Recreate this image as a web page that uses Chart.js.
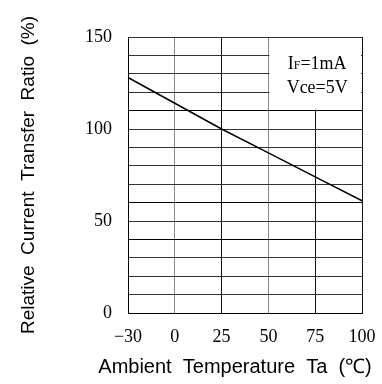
<!DOCTYPE html>
<html>
<head>
<meta charset="utf-8">
<script src="https://cdn.jsdelivr.net/npm/chart.js@4"></script>
<style>
  html, body { margin: 0; padding: 0; background: #fff; }
  #wrap { width: 382px; height: 384px; }
</style>
</head>
<body>
<div id="wrap"><canvas id="myChart" width="382" height="384"></canvas></div>
<script>
// temperature ticks (evenly spaced on the original graph paper)
const temperatures = ["\u221230", "0", "25", "50", "75", "100"];
// relative CTR (%) read at each temperature tick
const ctrValues = [128, 114, 100, 87, 74, 61];
const yLabels = [0, 50, 100, 150];
const noteLines = ["IF=1mA", "Vce=5V"];
const xTitle = "Ambient  Temperature  Ta  (\u2103)";

const serif = "'Liberation Serif', 'Times New Roman', serif";
const sans = "'Liberation Sans', Arial, sans-serif";

// white box with test conditions in the upper right corner
const notePlugin = {
  id: "note",
  beforeDatasetsDraw(chart) {
    const ctx = chart.ctx;
    const x = chart.scales.x;
    const y = chart.scales.y;
    const left = x.getPixelForValue(3) + 1;
    const right = x.getPixelForValue(5) - 1;
    const top = y.getPixelForValue(150) + 1;
    const bottom = y.getPixelForValue(110) - 1;
    ctx.save();
    ctx.fillStyle = "#fff";
    ctx.fillRect(left, top, right - left, bottom - top);
    ctx.fillStyle = "#000";
    ctx.textBaseline = "middle";
    const cx = (left + right) / 2 + 2;
    // first line: I with small-cap F
    ctx.font = "18px " + serif;
    const wI = ctx.measureText("I").width;
    ctx.font = "12px " + serif;
    const wF = ctx.measureText("F").width;
    ctx.font = "18px " + serif;
    const rest = noteLines[0].slice(2);
    const wRest = ctx.measureText(rest).width;
    const sx = cx - (wI + wF + wRest) / 2;
    const ly1 = top + 26;
    ctx.textAlign = "left";
    ctx.fillText("I", sx, ly1);
    ctx.font = "12px " + serif;
    ctx.fillText("F", sx + wI, ly1 + 2);
    ctx.font = "18px " + serif;
    ctx.fillText(rest, sx + wI + wF, ly1);
    ctx.textAlign = "center";
    ctx.fillText(noteLines[1], cx, top + 50);
    ctx.restore();
  },
  // x axis title is wider than the plot, so Chart.js would squeeze it
  afterDraw(chart) {
    const ctx = chart.ctx;
    const area = chart.chartArea;
    ctx.save();
    ctx.fillStyle = "#000";
    ctx.font = "20px " + sans;
    ctx.textAlign = "center";
    ctx.textBaseline = "middle";
    ctx.fillText(xTitle, (area.left + area.right) / 2 - 10, area.bottom + 54);
    ctx.restore();
  }
};

new Chart("myChart", {
  type: "line",
  data: {
    labels: temperatures,
    datasets: [
      {
        data: ctrValues,
        borderColor: "#000",
        borderWidth: 1.5,
        pointRadius: 0,
        tension: 0,
        fill: false,
      },
    ],
  },
  options: {
    responsive: false,
    animation: false,
    events: [],
    layout: { padding: { left: 0, top: 37, right: 20, bottom: 0 } },
    plugins: {
      legend: { display: false },
      tooltip: { enabled: false },
    },
    scales: {
      x: {
        type: "category",
        offset: false,
        grid: {
          color: (c) => (c.index === 1 || c.index === 3 ? "#8a8a8a" : "#111"),
          lineWidth: 1,
          drawTicks: false,
        },
        border: { color: "#000", width: 1 },
        ticks: {
          color: "#000",
          font: { family: serif, size: 18 },
          padding: 13,
          maxRotation: 0,
          autoSkip: false,
        },
        title: { display: false },
        afterFit: (scale) => {
          scale.height = 71;
          scale.paddingLeft = 0;
          scale.paddingRight = 0;
        },
      },
      y: {
        min: 0,
        max: 150,
        grid: {
          color: (c) => ([40, 60, 110].includes(c.tick.value) ? "#000" : "#333"),
          lineWidth: 1,
          drawTicks: false,
        },
        border: { color: "#000", width: 1 },
        ticks: {
          stepSize: 10,
          autoSkip: false,
          color: "#000",
          font: { family: serif, size: 18 },
          padding: 16,
          callback: (v) => (yLabels.includes(v) ? String(v) : ""),
        },
        title: {
          display: true,
          text: "Relative  Current  Transfer  Ratio  (%)",
          color: "#000",
          font: { family: sans, size: 19 },
          padding: { top: 17.5, bottom: 0 },
        },
        afterFit: (scale) => { scale.width = 128; },
      },
    },
  },
  plugins: [notePlugin],
});
</script>
</body>
</html>
